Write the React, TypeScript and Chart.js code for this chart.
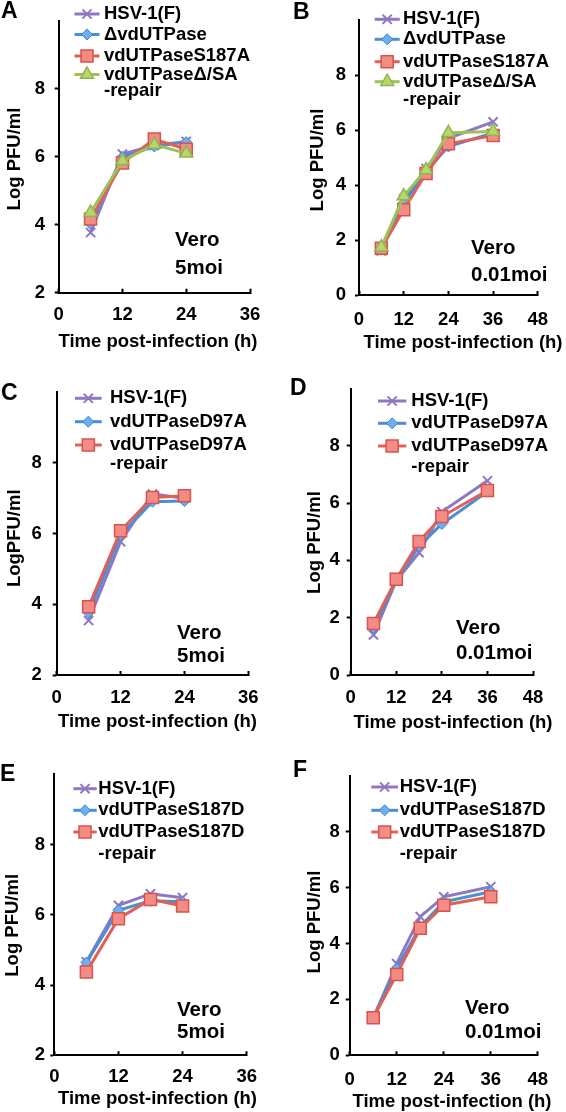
import React, { useEffect, useRef } from 'react';
import { Chart, registerables } from 'chart.js';
import { drawPoint } from 'chart.js/helpers';

Chart.register(...registerables);

// ---------- data ----------
const TIMES_5MOI = [6, 12, 18, 24];
const TIMES_001MOI = [6, 12, 18, 24, 36];

const A_HSV = [3.77, 6.08, 6.33, 6.45];
const A_DELTA = [4.03, 6.0, 6.3, 6.43];
const A_S187A = [4.17, 5.82, 6.52, 6.22];
const A_REPAIR = [4.36, 5.88, 6.36, 6.1];

const B_HSV = [1.6, 3.5, 4.6, 5.7, 6.3];
const B_DELTA = [1.65, 3.35, 4.5, 5.4, 5.9];
const B_S187A = [1.7, 3.1, 4.42, 5.5, 5.8];
const B_REPAIR = [1.74, 3.6, 4.55, 5.9, 5.95];

const C_HSV = [3.54, 5.77, 7.12, 7.0];
const C_D97A = [3.76, 5.96, 6.9, 6.92];
const C_REPAIR = [3.93, 6.08, 7.02, 7.07];

const D_HSV = [1.4, 3.29, 4.27, 5.7, 6.78];
const D_D97A = [1.65, 3.3, 4.5, 5.27, 6.4];
const D_REPAIR = [1.8, 3.34, 4.66, 5.53, 6.44];

const E_HSV = [4.66, 6.27, 6.6, 6.49];
const E_S187D = [4.64, 6.13, 6.4, 6.37];
const E_REPAIR = [4.37, 5.89, 6.44, 6.25];

const F_HSV = [1.34, 3.28, 4.96, 5.67, 6.03];
const F_S187D = [1.34, 3.1, 4.6, 5.49, 5.85];
const F_REPAIR = [1.34, 2.89, 4.54, 5.37, 5.67];

const LEG_A = ['HSV-1(F)', '\u0394vdUTPase', 'vdUTPaseS187A', 'vdUTPase\u0394/SA\n-repair'];
const LEG_C = ['HSV-1(F)', 'vdUTPaseD97A', 'vdUTPaseD97A\n-repair'];
const LEG_E = ['HSV-1(F)', 'vdUTPaseS187D', 'vdUTPaseS187D\n-repair'];

const X_TITLE = 'Time post-infection (h)';
const Y_TITLE = 'Log PFU/ml';
const Y_TITLE_C = 'LogPFU/ml';
const NOTE_5 = ['Vero', '5moi'];
const NOTE_001 = ['Vero', '0.01moi'];

// ---------- styles ----------
const FAMILY = '"Liberation Sans", Arial, Helvetica, sans-serif';
const FONT_SIZE = 18.5;
const PURPLE = { line: '#8f78c3', fill: '#8f78c3', edge: '#8f78c3', style: 'crossRot', r: 6.5, bw: 2 };
const BLUE = { line: '#4a8fd5', fill: '#6cb0ef', edge: '#3f83cc', style: 'rectRot', r: 5.5, bw: 1 };
const RED = { line: '#e06058', fill: '#f28c84', edge: '#d9534c', style: 'rect', r: 8.5, bw: 1.5 };
const GREEN = { line: '#9cc25a', fill: '#b7d76b', edge: '#8fb552', style: 'triangle', r: 7.5, bw: 1.5 };

function series(label: string, times: number[], values: number[], st: any, order: number) {
  return {
    label,
    data: times.map((t, i) => ({ x: t, y: values[i] })),
    borderColor: st.line,
    backgroundColor: st.fill,
    pointBackgroundColor: st.fill,
    pointBorderColor: st.edge,
    pointBorderWidth: st.bw,
    pointStyle: st.style,
    pointRadius: st.r,
    borderWidth: 3,
    tension: 0,
    order,
  };
}

const PANELS: any[] = [
  {
    letter: 'A', ox: 0, oy: 0,
    area: { left: 58.7, top: 6.7, right: 250, bottom: 292.7 },
    yMin: 2, xMax: 36, xTickPad: 15.2, yTickPad: 9.7,
    letterPos: { x: 1, y: 11.5 }, note: NOTE_5, notePos: { x: 175, ys: [240.7, 268.3] },
    legend: { lx0: 74.5, lx1: 99.5, tx: 104, ys: [14, 34.5, 56, 74.5], lh: 16.5 },
    xTitle: { x: 158, y: 342 }, yTitleText: Y_TITLE, yTitle: { x: 15, y: 159 },
    datasets: () => [
      series(LEG_A[0], TIMES_5MOI, A_HSV, PURPLE, 4),
      series(LEG_A[1], TIMES_5MOI, A_DELTA, BLUE, 3),
      series(LEG_A[2], TIMES_5MOI, A_S187A, RED, 2),
      series(LEG_A[3], TIMES_5MOI, A_REPAIR, GREEN, 1),
    ],
  },
  {
    letter: 'B', ox: 283, oy: 0,
    area: { left: 76, top: 18, right: 266.7, bottom: 295 },
    yMin: 0, xMax: 48, xTickPad: 17.9, yTickPad: 9,
    letterPos: { x: 10, y: 12.5 }, note: NOTE_001, notePos: { x: 188, ys: [248, 275] },
    legend: { lx0: 91.7, lx1: 116.7, tx: 120, ys: [19.3, 39.3, 61.7, 81.7], lh: 18.3 },
    xTitle: { x: 180, y: 343 }, yTitleText: Y_TITLE, yTitle: { x: 35, y: 160 },
    datasets: () => [
      series(LEG_A[0], TIMES_001MOI, B_HSV, PURPLE, 4),
      series(LEG_A[1], TIMES_001MOI, B_DELTA, BLUE, 3),
      series(LEG_A[2], TIMES_001MOI, B_S187A, RED, 2),
      series(LEG_A[3], TIMES_001MOI, B_REPAIR, GREEN, 1),
    ],
  },
  {
    letter: 'C', ox: 0, oy: 370,
    area: { left: 56.7, top: 21, right: 248.3, bottom: 305 },
    yMin: 2, xMax: 36, xTickPad: 16.2, yTickPad: 11,
    letterPos: { x: 1, y: 23.5 }, note: NOTE_5, notePos: { x: 177, ys: [263, 286.7] },
    legend: { lx0: 75, lx1: 101.7, tx: 110, ys: [28.3, 51.7, 75], lh: 19.3 },
    xTitle: { x: 157.5, y: 351.7 }, yTitleText: Y_TITLE_C, yTitle: { x: 15, y: 168.3 },
    datasets: () => [
      series(LEG_C[0], TIMES_5MOI, C_HSV, PURPLE, 3),
      series(LEG_C[1], TIMES_5MOI, C_D97A, BLUE, 2),
      series(LEG_C[2], TIMES_5MOI, C_REPAIR, RED, 1),
    ],
  },
  {
    letter: 'D', ox: 283, oy: 370,
    area: { left: 67.7, top: 18.5, right: 250, bottom: 305 },
    yMin: 0, xMax: 48, xTickPad: 16.2, yTickPad: 7,
    letterPos: { x: 7, y: 18.5 }, note: NOTE_001, notePos: { x: 173, ys: [258, 283] },
    legend: { lx0: 95, lx1: 123.3, tx: 128.3, ys: [31, 53.3, 76], lh: 20.7 },
    xTitle: { x: 170, y: 353.3 }, yTitleText: Y_TITLE, yTitle: { x: 31.7, y: 172.5 },
    datasets: () => [
      series(LEG_C[0], TIMES_001MOI, D_HSV, PURPLE, 3),
      series(LEG_C[1], TIMES_001MOI, D_D97A, BLUE, 2),
      series(LEG_C[2], TIMES_001MOI, D_REPAIR, RED, 1),
    ],
  },
  {
    letter: 'E', ox: 0, oy: 742,
    area: { left: 54.3, top: 32.4, right: 246.7, bottom: 313.3 },
    yMin: 2, xMax: 36, xTickPad: 14.6, yTickPad: 5.3,
    letterPos: { x: 0, y: 32.5 }, note: NOTE_5, notePos: { x: 177, ys: [268, 290] },
    legend: { lx0: 73.3, lx1: 96.7, tx: 98.3, ys: [46.7, 68.3, 90], lh: 21.7 },
    xTitle: { x: 157.5, y: 357.3 }, yTitleText: Y_TITLE, yTitle: { x: 13.3, y: 183.3 },
    datasets: () => [
      series(LEG_E[0], TIMES_5MOI, E_HSV, PURPLE, 3),
      series(LEG_E[1], TIMES_5MOI, E_S187D, BLUE, 2),
      series(LEG_E[2], TIMES_5MOI, E_REPAIR, RED, 1),
    ],
  },
  {
    letter: 'F', ox: 283, oy: 742,
    area: { left: 66.7, top: 33.7, right: 258.3, bottom: 313.3 },
    yMin: 0, xMax: 48, xTickPad: 17.9, yTickPad: 6,
    letterPos: { x: 10, y: 28.3 }, note: NOTE_001, notePos: { x: 182, ys: [266.7, 290] },
    legend: { lx0: 88.3, lx1: 115, tx: 116.7, ys: [45, 68.3, 90], lh: 21.7 },
    xTitle: { x: 169, y: 360 }, yTitleText: Y_TITLE, yTitle: { x: 31.7, y: 180 },
    datasets: () => [
      series(LEG_E[0], TIMES_001MOI, F_HSV, PURPLE, 3),
      series(LEG_E[1], TIMES_001MOI, F_S187D, BLUE, 2),
      series(LEG_E[2], TIMES_001MOI, F_REPAIR, RED, 1),
    ],
  },
];

const W = 283;
const H = 370;

function makeDecor(cfg: any) {
  return {
    id: 'decor' + cfg.letter,
    afterDraw(chart: any) {
      const ctx = chart.ctx;
      ctx.save();
      // legend
      const lg = cfg.legend;
      chart.data.datasets.forEach((ds: any, i: number) => {
        const y = lg.ys[i];
        ctx.strokeStyle = ds.borderColor;
        ctx.lineWidth = ds.borderWidth;
        ctx.lineCap = 'butt';
        ctx.beginPath();
        ctx.moveTo(lg.lx0, y);
        ctx.lineTo(lg.lx1, y);
        ctx.stroke();
        ctx.fillStyle = ds.pointBackgroundColor;
        ctx.strokeStyle = ds.pointBorderColor;
        ctx.lineWidth = ds.pointBorderWidth;
        drawPoint(ctx, { pointStyle: ds.pointStyle, radius: ds.pointRadius, rotation: 0, borderWidth: ds.pointBorderWidth } as any, (lg.lx0 + lg.lx1) / 2, y);
        ctx.fillStyle = '#000';
        ctx.font = `bold ${FONT_SIZE}px ${FAMILY}`;
        ctx.textBaseline = 'middle';
        ctx.textAlign = 'left';
        String(ds.label).split('\n').forEach((line: string, k: number) => {
          ctx.fillText(line, lg.tx, y + k * lg.lh);
        });
      });
      // annotation
      ctx.fillStyle = '#000';
      ctx.font = `bold 20.5px ${FAMILY}`;
      ctx.textBaseline = 'middle';
      ctx.textAlign = 'left';
      cfg.note.forEach((t: string, k: number) => ctx.fillText(t, cfg.notePos.x, cfg.notePos.ys[k]));
      // panel letter
      ctx.font = `bold 23px ${FAMILY}`;
      ctx.fillText(cfg.letter, cfg.letterPos.x, cfg.letterPos.y);
      // axis titles
      ctx.font = `bold ${FONT_SIZE}px ${FAMILY}`;
      ctx.textAlign = 'center';
      ctx.fillText(X_TITLE, cfg.xTitle.x, cfg.xTitle.y);
      ctx.translate(cfg.yTitle.x, cfg.yTitle.y);
      ctx.rotate(-Math.PI / 2);
      ctx.fillText(cfg.yTitleText, 0, 0);
      ctx.restore();
    },
  };
}

function Panel({ cfg }: { cfg: any }) {
  const ref = useRef<HTMLCanvasElement | null>(null);
  useEffect(() => {
    const canvas = ref.current;
    if (!canvas) return;
    const tickFont = { family: FAMILY, size: FONT_SIZE, weight: 'bold' as const, lineHeight: 1.2 };
    const chart = new Chart(canvas, {
      type: 'line',
      data: { datasets: cfg.datasets() },
      options: {
        responsive: false,
        animation: false,
        events: [],
        layout: { padding: { left: 0, top: cfg.area.top, right: W - cfg.area.right, bottom: 0 } },
        plugins: { legend: { display: false }, tooltip: { enabled: false } },
        scales: {
          x: {
            type: 'linear',
            min: 0,
            max: cfg.xMax,
            ticks: { stepSize: 12, padding: cfg.xTickPad, font: tickFont, color: '#000', maxRotation: 0, autoSkip: false },
            grid: { drawOnChartArea: false, drawTicks: true, tickLength: -4, tickWidth: 2, tickColor: '#000' },
            border: { display: true, color: '#000', width: 2 },
            afterFit: (s: any) => { s.height = H - cfg.area.bottom; },
          },
          y: {
            type: 'linear',
            min: cfg.yMin,
            max: 10,
            ticks: {
              stepSize: 2,
              padding: cfg.yTickPad,
              font: tickFont,
              color: '#000',
              callback: (v: any) => (v === 10 ? null : String(v)),
            },
            grid: { drawOnChartArea: false, drawTicks: true, tickLength: 4, tickWidth: 2, tickColor: '#000' },
            border: { display: true, color: '#000', width: 2 },
            afterFit: (s: any) => { s.width = cfg.area.left; },
          },
        },
      } as any,
      plugins: [makeDecor(cfg)],
    });
    return () => chart.destroy();
  }, [cfg]);
  return (
    <canvas
      ref={ref}
      width={W}
      height={H}
      style={{ position: 'absolute', left: cfg.ox, top: cfg.oy, width: W, height: H }}
    />
  );
}

export default function App() {
  return (
    <div style={{ position: 'absolute', left: 0, top: 0, width: 566, height: 1112, background: '#fff', overflow: 'hidden' }}>
      {PANELS.map((p) => (
        <Panel key={p.letter} cfg={p} />
      ))}
    </div>
  );
}
